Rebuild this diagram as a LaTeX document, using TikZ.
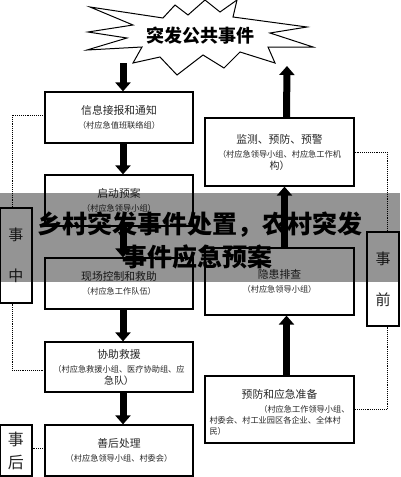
\documentclass[tikz,border=0pt]{standalone}
\usepackage{fontspec}
\setmainfont{Noto Sans CJK SC}
\usetikzlibrary{arrows.meta,calc}
\newcommand\ttlfont{\fontsize{10.8}{13}\selectfont}
\newcommand\subfont{\fontsize{8.2}{11}\selectfont}
\begin{document}
\begin{tikzpicture}[x=1pt,y=-1pt,
  box/.style={draw=black, line width=1.2pt, minimum width=148pt, align=center, inner sep=2pt, text=black!85},
  tagbox/.style={draw=black, line width=1.1pt, minimum width=32pt, inner sep=0pt, align=center, text=black!85},
  bigarrow/.style={line width=7pt, -{Triangle[width=15pt,length=9pt]}},
  dotline/.style={line width=0.7pt, dash pattern=on 0.8pt off 1.1pt},
  burst/.style={draw=black, line width=1pt, fill=white, line join=miter},
]
\useasboundingbox (0,0) rectangle (400,477);
\fill[white] (0,0) rectangle (400,477);

% starburst
\draw[burst] (90,7) -- (163,18) -- (175,5) -- (188,15) -- (205,0) -- (220,12) -- (237,0)
  -- (233,17) -- (307,27) -- (270,33) -- (313,47) -- (268,47) -- (275,63) -- (240,52)
  -- (224,68) -- (203,55) -- (177,75) -- (160,57) -- (133,63) -- (142,47) -- (87,50)
  -- (127,38) -- (88,32) -- (133,25) -- cycle;
\node[font=\fontsize{18}{20}\selectfont\bfseries] (title) at (200,36) {突发公共事件};
\coordinate (burstout) at (123,63);
\coordinate (burstin) at (287,66);

% left column
\node[box, minimum height=51pt] (b1) at (119,117.5)
  {\ttlfont 信息接报和通知\\[2pt]\subfont （村应急值班联络组）};
\node[box, minimum height=51pt] (b2) at (119,200.5)
  {\ttlfont 启动预案\\[2pt]\subfont （村应急领导小组）};
\node[box, minimum height=51pt] (b3) at (119,283.5)
  {\ttlfont 现场控制和救助\\[2pt]\subfont （村应急工作队伍）};
\node[box, minimum height=50pt] (b4) at (119,367)
  {\ttlfont 协助救援\\[2pt]\subfont （村应急救援小组、医疗协助组、应\\急队）};
\node[box, minimum height=51pt] (b5) at (119,450.5)
  {\ttlfont 善后处理\\[2pt]\subfont （村应急领导小组、村委会）};

% right column
\node[box, minimum width=149pt, minimum height=68pt] (r1) at (279.5,152)
  {\ttlfont 监测、预防、预警\\[2pt]\subfont （村应急领导小组、村应急工作机\\构）};
\node[box, minimum width=149pt, minimum height=67pt] (r2) at (279.5,281.5)
  {\ttlfont 隐患排查\\[2pt]\subfont （村应急领导小组）};
\node[box, minimum width=149pt, minimum height=67pt] (r3) at (279.5,409.5)
  {\parbox{140pt}{\vspace*{6pt}\centering\ttlfont 预防和应急准备\par\vspace{3pt}
   \raggedright\subfont\hspace*{\fill}（村应急工作领导小组、\\村委会、村工业园区各企业、全体村\\民）}};

% side tags
\node[tagbox, minimum height=95pt, font=\fontsize{15}{41}\selectfont] (l1) at (16,255.5) {事\\中};
\node[tagbox, minimum height=51pt, font=\fontsize{16}{23}\selectfont] (l2) at (16,450.5) {事\\后};
\node[tagbox, minimum height=94pt, font=\fontsize{15}{41}\selectfont] (l3) at (383,279) {事\\前};

% big arrows
\draw[bigarrow] (burstout) -- ([xshift=4pt]b1.north);
\draw[bigarrow] ([xshift=4pt]b1.south) -- ([xshift=4pt]b2.north);
\draw[bigarrow] ([xshift=4pt]b2.south) -- ([xshift=4pt]b3.north);
\draw[bigarrow] ([xshift=4pt]b3.south) -- ([xshift=4pt]b4.north);
\draw[bigarrow] ([xshift=4pt]b4.south) -- ([xshift=4pt]b5.north);
\draw[bigarrow] ([xshift=7pt]r3.north) -- ([xshift=7pt]r2.south);
\draw[bigarrow] ([xshift=5pt]r2.north) -- ([xshift=5pt]r1.south);
\draw[bigarrow] ([xshift=7pt]r1.north) -- (burstin);

% dotted links
\draw[dotline] ([yshift=2.5pt]b1.west) -| ([xshift=-4pt]l1.north);
\draw[dotline] ([xshift=-4pt]l1.south) |- ([yshift=-3pt]b4.west);
\draw[dotline] ([yshift=2pt]l2.east) -- ([yshift=2pt]b5.west);
\draw[dotline] (r1.east) -| ([xshift=4pt]l3.north);
\draw[dotline] ([xshift=4pt]l3.south) |- (r3.east);

% overlay banner
\fill[black, fill opacity=0.42] (0,193) rectangle (400,282);
\node[font=\fontsize{25}{28}\selectfont\bfseries, text=black] (ban1) at (200,225) {乡村突发事件处置，农村突发};
\node[font=\fontsize{25}{28}\selectfont\bfseries, text=black] (ban2) at (197,257) {事件应急预案};
\end{tikzpicture}
\end{document}
